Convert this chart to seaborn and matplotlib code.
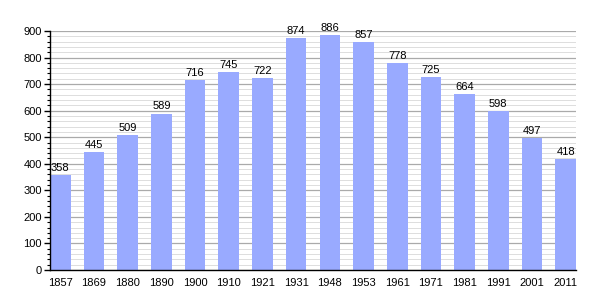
import matplotlib
matplotlib.use("Agg")
import matplotlib.pyplot as plt
import seaborn as sns
import pandas as pd
from matplotlib.ticker import MultipleLocator

years = ["1857", "1869", "1880", "1890", "1900", "1910", "1921", "1931",
         "1948", "1953", "1961", "1971", "1981", "1991", "2001", "2011"]
population = [358, 445, 509, 589, 716, 745, 722, 874,
              886, 857, 778, 725, 664, 598, 497, 418]

df = pd.DataFrame({"year": years, "pop": population})

sns.set_style("white")
plt.rcParams["font.family"] = ["Liberation Sans", "DejaVu Sans"]
plt.rcParams["text.color"] = "black"
plt.rcParams["xtick.color"] = "black"
plt.rcParams["ytick.color"] = "black"

fig = plt.figure(figsize=(6.05, 3.0), dpi=100)
ax = fig.add_axes([50/605, 30/300, 526/605, 239/300])

sns.barplot(data=df, x="year", y="pop", color="#99aaff", saturation=1,
            width=0.61, ax=ax, linewidth=0, edgecolor="none")

ax.set_ylim(0, 900)
ax.set_xlim(-0.305, len(years) - 1 + 0.305)
ax.yaxis.set_major_locator(MultipleLocator(100))
ax.yaxis.set_minor_locator(MultipleLocator(20))
ax.grid(which="major", axis="y", color="#aaaaaa", linewidth=0.9)
ax.grid(which="minor", axis="y", color="#dddddd", linewidth=0.7)
ax.set_axisbelow(True)

for s in ["top", "right"]:
    ax.spines[s].set_visible(False)
for s in ["left", "bottom"]:
    ax.spines[s].set_color("black")
    ax.spines[s].set_linewidth(1.0)
    ax.spines[s].set_zorder(5)

ax.tick_params(axis="y", which="major", left=True, length=4, width=1,
               labelsize=8, pad=2, colors="black")
ax.tick_params(axis="y", which="minor", left=True, length=2, width=0.8, colors="black")
ax.tick_params(axis="x", bottom=False, labelsize=8, pad=2, colors="black")
ax.set_xlabel("")
ax.set_ylabel("")

for i, v in enumerate(population):
    ax.text(i, v + 8, str(v), ha="center", va="bottom", fontsize=8, color="black")

fig.savefig("out.png", dpi=100)
